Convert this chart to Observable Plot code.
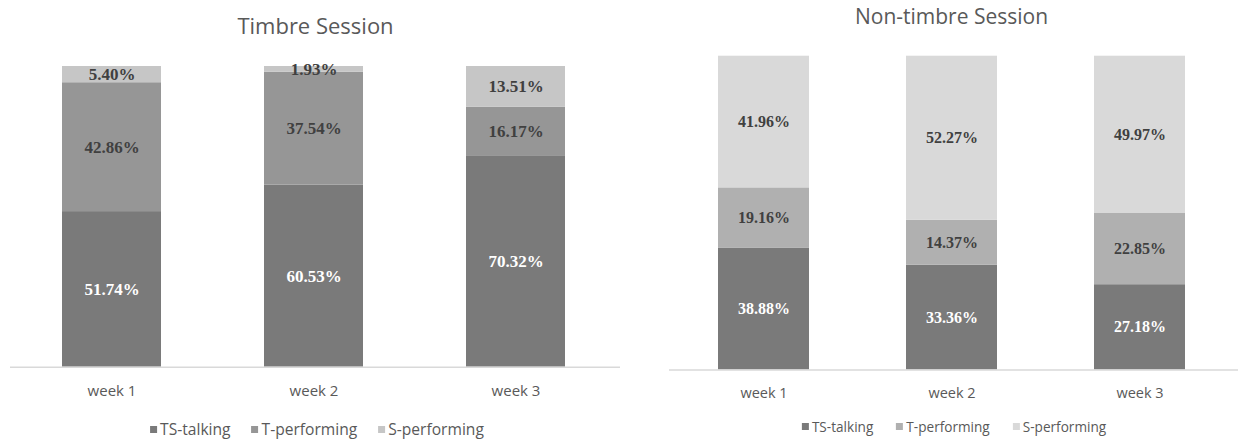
<!DOCTYPE html>
<html>
<head>
<meta charset="utf-8">
<script src="https://cdn.jsdelivr.net/npm/d3@7"></script>
<script src="https://cdn.jsdelivr.net/npm/@observablehq/plot@0.6"></script>
<style>
  html, body { margin: 0; padding: 0; background: #ffffff; }
  #root { position: relative; width: 1238px; height: 439px; overflow: hidden; background: #ffffff; font-family: "Open Sans", sans-serif; }
  .panel { position: absolute; top: 0; }
  .title { position: absolute; white-space: nowrap; color: #595959; line-height: 1.2; transform: translateX(-50%); }
  .legend { position: absolute; display: flex; align-items: center; transform: translateX(-50%); white-space: nowrap; color: #595959; line-height: 1; }
  .legend .item { display: flex; align-items: center; }
  .legend .sw { width: 7px; height: 7px; margin-right: 3px; flex: none; }
</style>
</head>
<body>
<div id="root"></div>
<script>
// ---- data ----
const weeks = ["week 1", "week 2", "week 3"];
const seriesNames = ["TS-talking", "T-performing", "S-performing"];

const timbreTS = [51.74, 60.53, 70.32];
const timbreT  = [42.86, 37.54, 16.17];
const timbreS  = [5.40, 1.93, 13.51];

const nonTS = [38.88, 33.36, 27.18];
const nonT  = [19.16, 14.37, 22.85];
const nonS  = [41.96, 52.27, 49.97];

const titles = ["Timbre Session", "Non-timbre Session"];
const timbreColors = ["#7a7a7a", "#969696", "#c6c6c6"];
const nonColors = ["#7a7a7a", "#b0b0b0", "#d9d9d9"];

function rows(ts, t, s) {
  const out = [];
  [ts, t, s].forEach((vals, k) => {
    weeks.forEach((w, i) => out.push({week: w, series: seriesNames[k], value: vals[i]}));
  });
  return out;
}

const fmt = d => d.value.toFixed(2) + "%";

function panel(data, colors, opts) {
  const textBase = {x: "week", y: "value", z: "series",
    fontFamily: "'Liberation Serif', 'Times New Roman', serif", fontWeight: "bold", fontSize: opts.labelSize};
  return Plot.plot({
    width: opts.width,
    height: 439,
    marginLeft: opts.ml,
    marginRight: 0,
    marginTop: opts.mt,
    marginBottom: opts.mb,
    style: {fontFamily: "'Open Sans', sans-serif", fontSize: opts.tickSize + "px", color: "#595959", background: "transparent"},
    x: {domain: weeks, paddingInner: opts.pi, paddingOuter: opts.po, align: opts.align, label: null, tickSize: 0, tickPadding: 18},
    y: {domain: [0, 100], axis: null},
    color: {domain: seriesNames, range: colors},
    marks: [
      Plot.barY(data, {x: "week", y: "value", fill: "series"}),
      Plot.ruleY([0], {stroke: "#d9d9d9", strokeWidth: 1.5}),
      Plot.text(data, Plot.stackY({...textBase, text: d => d.series === seriesNames[0] ? fmt(d) : null, fill: "#ffffff"})),
      Plot.text(data, Plot.stackY({...textBase, text: d => d.series !== seriesNames[0] ? fmt(d) : null, fill: "#404040"}))
    ]
  });
}

const root = document.getElementById("root");

function addPanel(svg, left) {
  const wrap = document.createElement("div");
  wrap.className = "panel";
  wrap.style.left = left + "px";
  wrap.appendChild(svg);
  root.appendChild(wrap);
}

function addTitle(text, cx, baseline, size) {
  const d = document.createElement("div");
  d.className = "title";
  d.textContent = text;
  d.style.left = cx + "px";
  d.style.top = (baseline - 0.988 * size) + "px";
  d.style.fontSize = size + "px";
  root.appendChild(d);
}

function addLegend(colors, cx, cy, size, gap) {
  const d = document.createElement("div");
  d.className = "legend";
  d.style.left = cx + "px";
  d.style.top = (cy - size / 2) + "px";
  d.style.fontSize = size + "px";
  seriesNames.forEach((name, i) => {
    const it = document.createElement("div");
    it.className = "item";
    if (i > 0) it.style.marginLeft = gap + "px";
    const sw = document.createElement("span");
    sw.className = "sw";
    sw.style.background = colors[i];
    const tx = document.createElement("span");
    tx.textContent = name;
    it.appendChild(sw);
    it.appendChild(tx);
    d.appendChild(it);
  });
  root.appendChild(d);
}

addPanel(panel(rows(timbreTS, timbreT, timbreS), timbreColors,
  {width: 620, ml: 10, mt: 66, mb: 72.3, pi: 0.509, po: 0.26, align: 0.49, labelSize: 17, tickSize: 15}), 0);
addPanel(panel(rows(nonTS, nonT, nonS), nonColors,
  {width: 618, ml: 49, mt: 55.7, mb: 69.5, pi: 0.517, po: 0.266, align: 0.475, labelSize: 16, tickSize: 14.5}), 620);

addTitle(titles[0], 315.5, 33.3, 22);
addTitle(titles[1], 951.5, 25, 21);

addLegend(timbreColors, 317, 429.5, 15.6, 21);
addLegend(nonColors, 954, 427, 13.6, 23);
</script>
</body>
</html>
